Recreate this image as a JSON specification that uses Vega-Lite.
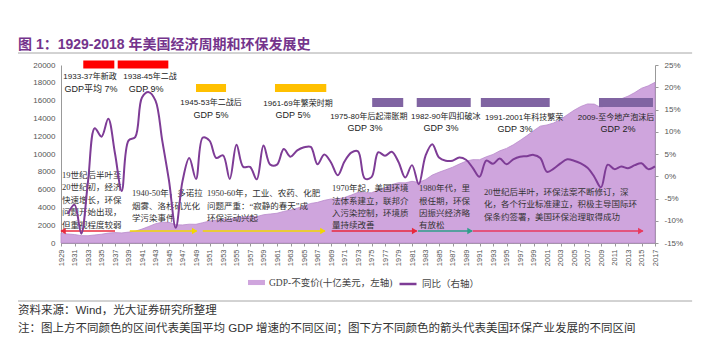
{
  "$schema": "https://vega.github.io/schema/vega-lite/v6.json",
  "width": 594,
  "height": 178,
  "autosize": {"type": "none"},
  "padding": {"left": 61, "top": 65, "right": 54, "bottom": 107},
  "background": "white",
  "config": {
    "view": {"stroke": null},
    "font": "Liberation Sans, Noto Sans CJK SC",
    "axis": {"grid": false, "labelOverlap": false, "labelFont": "Liberation Sans"},
    "axisX": {"labelAngle": -90, "labelFontSize": 7.5, "labelColor": "#555", "domainColor": "#999", "tickColor": "#999", "tickSize": 3, "labelPadding": 3, "labelFlush": false, "labelOverlap": false}
  },
  "title": {"text": "图 1：1929-2018 年美国经济周期和环保发展史", "anchor": "start", "frame": "group", "dx": -43, "offset": 1, "fontSize": 14, "fontWeight": "bold", "color": "#74348C", "font": "Liberation Sans, Noto Sans CJK SC"},
  "datasets": {
    "gdp": [
      {"year": 1929, "gdp": 1109.4, "yoy": null},
      {"year": 1930, "gdp": 1015.1, "yoy": -8.5},
      {"year": 1931, "gdp": 950.0, "yoy": -6.4},
      {"year": 1932, "gdp": 827.6, "yoy": -12.9},
      {"year": 1933, "gdp": 817.3, "yoy": -1.2},
      {"year": 1934, "gdp": 905.6, "yoy": 10.8},
      {"year": 1935, "gdp": 986.3, "yoy": 8.9},
      {"year": 1936, "gdp": 1113.6, "yoy": 12.9},
      {"year": 1937, "gdp": 1170.6, "yoy": 5.1},
      {"year": 1938, "gdp": 1132.5, "yoy": -3.3},
      {"year": 1939, "gdp": 1222.9, "yoy": 8.0},
      {"year": 1940, "gdp": 1330.2, "yoy": 8.8},
      {"year": 1941, "gdp": 1566.0, "yoy": 17.7},
      {"year": 1942, "gdp": 1853.2, "yoy": 18.9},
      {"year": 1943, "gdp": 2168.7, "yoy": 17.0},
      {"year": 1944, "gdp": 2343.0, "yoy": 8.0},
      {"year": 1945, "gdp": 2319.1, "yoy": -1.0},
      {"year": 1946, "gdp": 2050.3, "yoy": -11.6},
      {"year": 1947, "gdp": 2029.0, "yoy": -1.1},
      {"year": 1948, "gdp": 2112.7, "yoy": 4.1},
      {"year": 1949, "gdp": 2101.2, "yoy": -0.6},
      {"year": 1950, "gdp": 2283.3, "yoy": 8.7},
      {"year": 1951, "gdp": 2465.8, "yoy": 8.0},
      {"year": 1952, "gdp": 2567.9, "yoy": 4.1},
      {"year": 1953, "gdp": 2688.6, "yoy": 4.7},
      {"year": 1954, "gdp": 2672.3, "yoy": -0.6},
      {"year": 1955, "gdp": 2862.4, "yoy": 7.1},
      {"year": 1956, "gdp": 2922.1, "yoy": 2.1},
      {"year": 1957, "gdp": 2983.8, "yoy": 2.1},
      {"year": 1958, "gdp": 2963.6, "yoy": -0.7},
      {"year": 1959, "gdp": 3175.1, "yoy": 6.9},
      {"year": 1960, "gdp": 3259.1, "yoy": 2.6},
      {"year": 1961, "gdp": 3343.5, "yoy": 2.6},
      {"year": 1962, "gdp": 3548.4, "yoy": 6.1},
      {"year": 1963, "gdp": 3702.9, "yoy": 4.4},
      {"year": 1964, "gdp": 3916.3, "yoy": 5.8},
      {"year": 1965, "gdp": 4170.8, "yoy": 6.5},
      {"year": 1966, "gdp": 4445.9, "yoy": 6.6},
      {"year": 1967, "gdp": 4567.8, "yoy": 2.7},
      {"year": 1968, "gdp": 4792.3, "yoy": 4.9},
      {"year": 1969, "gdp": 4942.1, "yoy": 3.1},
      {"year": 1970, "gdp": 4951.3, "yoy": 0.2},
      {"year": 1971, "gdp": 5114.3, "yoy": 3.3},
      {"year": 1972, "gdp": 5383.3, "yoy": 5.3},
      {"year": 1973, "gdp": 5687.2, "yoy": 5.6},
      {"year": 1974, "gdp": 5656.5, "yoy": -0.5},
      {"year": 1975, "gdp": 5644.8, "yoy": -0.2},
      {"year": 1976, "gdp": 5949.0, "yoy": 5.4},
      {"year": 1977, "gdp": 6224.1, "yoy": 4.6},
      {"year": 1978, "gdp": 6568.6, "yoy": 5.5},
      {"year": 1979, "gdp": 6776.6, "yoy": 3.2},
      {"year": 1980, "gdp": 6759.2, "yoy": -0.3},
      {"year": 1981, "gdp": 6930.7, "yoy": 2.5},
      {"year": 1982, "gdp": 6805.8, "yoy": -1.8},
      {"year": 1983, "gdp": 7117.7, "yoy": 4.6},
      {"year": 1984, "gdp": 7632.8, "yoy": 7.2},
      {"year": 1985, "gdp": 7951.1, "yoy": 4.2},
      {"year": 1986, "gdp": 8226.4, "yoy": 3.5},
      {"year": 1987, "gdp": 8511.0, "yoy": 3.5},
      {"year": 1988, "gdp": 8866.5, "yoy": 4.2},
      {"year": 1989, "gdp": 9192.1, "yoy": 3.7},
      {"year": 1990, "gdp": 9365.5, "yoy": 1.9},
      {"year": 1991, "gdp": 9355.4, "yoy": -0.1},
      {"year": 1992, "gdp": 9684.9, "yoy": 3.5},
      {"year": 1993, "gdp": 9951.5, "yoy": 2.8},
      {"year": 1994, "gdp": 10352.4, "yoy": 4.0},
      {"year": 1995, "gdp": 10630.3, "yoy": 2.7},
      {"year": 1996, "gdp": 11031.4, "yoy": 3.8},
      {"year": 1997, "gdp": 11521.9, "yoy": 4.4},
      {"year": 1998, "gdp": 12038.3, "yoy": 4.5},
      {"year": 1999, "gdp": 12610.5, "yoy": 4.8},
      {"year": 2000, "gdp": 13131.0, "yoy": 4.1},
      {"year": 2001, "gdp": 13262.1, "yoy": 1.0},
      {"year": 2002, "gdp": 13493.1, "yoy": 1.7},
      {"year": 2003, "gdp": 13879.1, "yoy": 2.9},
      {"year": 2004, "gdp": 14406.4, "yoy": 3.8},
      {"year": 2005, "gdp": 14912.5, "yoy": 3.5},
      {"year": 2006, "gdp": 15338.3, "yoy": 2.9},
      {"year": 2007, "gdp": 15626.0, "yoy": 1.9},
      {"year": 2008, "gdp": 15604.7, "yoy": -0.1},
      {"year": 2009, "gdp": 15208.8, "yoy": -2.5},
      {"year": 2010, "gdp": 15598.8, "yoy": 2.6},
      {"year": 2011, "gdp": 15840.7, "yoy": 1.6},
      {"year": 2012, "gdp": 16197.0, "yoy": 2.2},
      {"year": 2013, "gdp": 16495.4, "yoy": 1.8},
      {"year": 2014, "gdp": 16899.8, "yoy": 2.5},
      {"year": 2015, "gdp": 17386.7, "yoy": 2.9},
      {"year": 2016, "gdp": 17659.2, "yoy": 1.6},
      {"year": 2017, "gdp": 18050.7, "yoy": 2.2}
    ],
    "bars": [
      {"period": "1933-37", "tier": "高增长", "start": 1932.3, "end": 1936.9, "top": 20506, "bottom": 19607},
      {"period": "1938-45", "tier": "高增长", "start": 1937.4, "end": 1944.9, "top": 20506, "bottom": 19607},
      {"period": "1945-53", "tier": "中增长", "start": 1949.0, "end": 1953.45, "top": 17865, "bottom": 16966},
      {"period": "1961-69", "tier": "中增长", "start": 1960.7, "end": 1968.3, "top": 17865, "bottom": 16966},
      {"period": "1975-80", "tier": "低增长", "start": 1975.1, "end": 1979.7, "top": 16292, "bottom": 15281},
      {"period": "1982-90", "tier": "低增长", "start": 1981.7, "end": 1989.7, "top": 16292, "bottom": 15281},
      {"period": "1991-2001", "tier": "低增长", "start": 1991.2, "end": 2001.4, "top": 16292, "bottom": 15281},
      {"period": "2009-", "tier": "低增长", "start": 2008.7, "end": 2016.7, "top": 16292, "bottom": 15281}
    ],
    "periodLabels": [
      {"t": "1933-37年新政", "x": 1933.3, "v": 18652},
      {"t": "1938-45年二战", "x": 1942.19, "v": 18652},
      {"t": "1945-53年二战后", "x": 1951.22, "v": 15730},
      {"t": "1961-69年繁荣时期", "x": 1964.11, "v": 15618},
      {"t": "1975-80年后起滞胀期", "x": 1974.6, "v": 14157},
      {"t": "1982-90年四扣破冰", "x": 1986.0, "v": 14157},
      {"t": "1991-2001年科技繁荣", "x": 1997.6, "v": 14045},
      {"t": "2009-至今地产泡沫后", "x": 2011.22, "v": 14045}
    ],
    "gdpLabels": [
      {"t": "GDP平均 7%", "x": 1933.44, "v": 17303},
      {"t": "GDP 9%", "x": 1941.6, "v": 17303},
      {"t": "GDP 5%", "x": 1951.22, "v": 14382},
      {"t": "GDP 5%", "x": 1963.37, "v": 14382},
      {"t": "GDP 3%", "x": 1974.04, "v": 12921},
      {"t": "GDP 3%", "x": 1985.3, "v": 12921},
      {"t": "GDP 3%", "x": 1996.26, "v": 12809},
      {"t": "GDP 2%", "x": 2011.52, "v": 12809}
    ],
    "notes": [
      {"t": "19世纪后半叶至", "x": 1929.15, "v": 7640},
      {"t": "20世纪初，经济", "x": 1929.15, "v": 6236},
      {"t": "快速增长，环保", "x": 1929.15, "v": 4831},
      {"t": "问题开始出现，", "x": 1929.15, "v": 3427},
      {"t": "但重视程度较弱", "x": 1929.15, "v": 2022},
      {"t": "1940-50年，多诺拉", "x": 1939.52, "v": 5618},
      {"t": "烟雾、洛杉矶光化", "x": 1939.52, "v": 4213},
      {"t": "学污染事件", "x": 1939.52, "v": 2809},
      {"t": "1950-60年，工业、农药、化肥", "x": 1950.63, "v": 5618},
      {"t": "问题严重：“寂静的春天”成", "x": 1950.63, "v": 4213},
      {"t": "环保运动兴起", "x": 1950.63, "v": 2809},
      {"t": "1970年起，美国环境", "x": 1969.15, "v": 6146},
      {"t": "法体系建立，联邦介", "x": 1969.15, "v": 4753},
      {"t": "入污染控制，环境质", "x": 1969.15, "v": 3404},
      {"t": "量持续改善", "x": 1969.15, "v": 2022},
      {"t": "1980年代，里", "x": 1982.04, "v": 6146},
      {"t": "根任期，环保", "x": 1982.04, "v": 4753},
      {"t": "因振兴经济略", "x": 1982.04, "v": 3404},
      {"t": "有放松", "x": 1982.04, "v": 2022},
      {"t": "20世纪后半叶，环保法案不断修订，深", "x": 1991.67, "v": 5764},
      {"t": "化，各个行业标准建立，积极主导国际环", "x": 1991.67, "v": 4382},
      {"t": "保条约签署，美国环保治理取得成功", "x": 1991.67, "v": 2955}
    ],
    "arrows": [
      {"era": "19世纪后半叶", "from": 1929.0, "to": 1937.0, "head": 1929.3, "dir": "左"},
      {"era": "1940-50年", "from": 1939.2, "to": 1949.1, "head": 1948.8, "dir": "右"},
      {"era": "1950-60年", "from": 1950.0, "to": 1968.1, "head": 1967.8, "dir": "右"},
      {"era": "1970年起", "from": 1969.1, "to": 1981.7, "head": 1981.4, "dir": "右"},
      {"era": "1980年代", "from": 1981.9, "to": 1989.9, "head": 1989.6, "dir": "右"},
      {"era": "20世纪后半叶", "from": 1990.0, "to": 2015.2, "head": 2014.9, "dir": "右"}
    ],
    "footnotes": [
      {"t": "资料来源：Wind，光大证券研究所整理", "v": -7640},
      {"t": "注：图上方不同颜色的区间代表美国平均 GDP 增速的不同区间；图下方不同颜色的箭头代表美国环保产业发展的不同区间", "v": -9663}
    ],
    "separators": [
      {"pos": "上", "v": 21348},
      {"pos": "下", "v": -6517}
    ]
  },
  "layer": [
    {
      "data": {"name": "gdp"},
      "mark": {"type": "area", "opacity": 1, "stroke": "#B98ACB", "strokeWidth": 0.8},
      "encoding": {
        "x": {"field": "year", "type": "quantitative", "title": null,
          "scale": {"domain": [1929, 2017], "nice": false, "zero": false},
          "axis": {"orient": "bottom", "offset": 0, "values": [1929,1937,1945,1953,1961,1969,1977,1985,1993,2001,2009,2017], "format": "d", "title": null}},
        "y": {"field": "gdp", "type": "quantitative", "title": null,
          "scale": {"domain": [0, 20000], "nice": false, "zero": false},
          "axis": {"values": [0,2000,4000,6000,8000,10000,12000,14000,16000,18000,20000], "tickCount": 20, "format": "d", "labelFontSize": 8, "labelColor": "#555", "domainColor": "#999", "ticks": false, "labelPadding": 6, "labelOverlap": false, "labelFlush": false}},
        "fill": {"datum": "GDP-不变价(十亿美元，左轴)", "type": "nominal", "scale": {"range": ["#CFA5DD"]},
          "legend": {"orient": "none", "legendX": 187, "legendY": 209, "direction": "horizontal", "title": null, "padding": 0, "symbolType": "M-1,-0.3L1,-0.3L1,0.3L-1,0.3Z", "symbolSize": 289, "symbolStrokeWidth": 0, "labelFontSize": 9.5, "labelColor": "#444", "labelFont": "Liberation Serif, Noto Sans CJK SC"}}
      }
    },
    {
      "data": {"name": "bars"},
      "mark": {"type": "rect"},
      "encoding": {
        "x": {"field": "start", "type": "quantitative", "title": null,
          "axis": {"orient": "bottom", "offset": 0, "values": [1933,1941,1949,1957,1965,1973,1981,1989,1997,2005,2013], "format": "d", "title": null}},
        "x2": {"field": "end"},
        "y": {"field": "top", "type": "quantitative", "title": null, "axis": null, "scale": {"domain": [0, 20000], "nice": false, "zero": false}},
        "y2": {"field": "bottom"},
        "color": {"field": "tier", "type": "nominal", "legend": null,
          "scale": {"domain": ["高增长","中增长","低增长","19世纪后半叶","1940-50年","1950-60年","1970年起","1980年代","20世纪后半叶"],
            "range": ["#FF0000","#FFC000","#8064A2","#E8283C","#F2D700","#F2D700","#E8283C","#2E9E8A","#E83A5E"]}}
      }
    },
    {
      "data": {"name": "periodLabels"},
      "mark": {"type": "text", "align": "center", "baseline": "middle", "fontSize": 8, "font": "Liberation Sans, Noto Sans CJK SC", "color": "#222"},
      "encoding": {
        "x": {"field": "x", "type": "quantitative", "title": null, "axis": null},
        "y": {"field": "v", "type": "quantitative", "title": null, "axis": null, "scale": {"domain": [0, 20000], "nice": false, "zero": false}},
        "text": {"field": "t"}
      }
    },
    {
      "data": {"name": "gdpLabels"},
      "mark": {"type": "text", "align": "center", "baseline": "middle", "fontSize": 9, "font": "Liberation Sans, Noto Sans CJK SC", "color": "#222"},
      "encoding": {
        "x": {"field": "x", "type": "quantitative", "title": null, "axis": null},
        "y": {"field": "v", "type": "quantitative", "title": null, "axis": null, "scale": {"domain": [0, 20000], "nice": false, "zero": false}},
        "text": {"field": "t"}
      }
    },
    {
      "data": {"name": "notes"},
      "mark": {"type": "text", "align": "left", "baseline": "middle", "fontSize": 8.5, "font": "Liberation Serif, Noto Sans CJK SC", "color": "#333"},
      "encoding": {
        "x": {"field": "x", "type": "quantitative", "title": null,
          "axis": {"orient": "bottom", "offset": 0, "values": [1935,1943,1951,1959,1967,1975,1983,1991,1999,2007,2015], "format": "d", "title": null}},
        "y": {"field": "v", "type": "quantitative", "title": null, "axis": null, "scale": {"domain": [0, 20000], "nice": false, "zero": false}},
        "text": {"field": "t"}
      }
    },
    {
      "data": {"name": "arrows"},
      "mark": {"type": "rule", "strokeWidth": 1.5},
      "encoding": {
        "x": {"field": "from", "type": "quantitative", "title": null, "axis": null},
        "x2": {"field": "to"},
        "y": {"datum": 1348, "type": "quantitative", "axis": null, "scale": {"domain": [0, 20000], "nice": false, "zero": false}},
        "color": {"field": "era", "type": "nominal", "legend": null}
      }
    },
    {
      "data": {"name": "arrows"},
      "mark": {"type": "point", "filled": true, "size": 40, "opacity": 1},
      "encoding": {
        "x": {"field": "head", "type": "quantitative", "title": null, "axis": null},
        "y": {"datum": 1348, "type": "quantitative", "axis": null, "scale": {"domain": [0, 20000], "nice": false, "zero": false}},
        "shape": {"field": "dir", "type": "nominal", "legend": null, "scale": {"domain": ["左","右"], "range": ["triangle-left","triangle-right"]}},
        "color": {"field": "era", "type": "nominal", "legend": null}
      }
    },
    {
      "data": {"name": "footnotes"},
      "mark": {"type": "text", "align": "left", "baseline": "middle", "fontSize": 11.5, "font": "Liberation Sans, Noto Sans CJK SC", "color": "#333"},
      "encoding": {
        "x": {"datum": 1922.63, "type": "quantitative", "axis": null},
        "y": {"field": "v", "type": "quantitative", "title": null, "axis": null, "scale": {"domain": [0, 20000], "nice": false, "zero": false}},
        "text": {"field": "t"}
      }
    },
    {
      "data": {"name": "separators"},
      "mark": {"type": "rule", "color": "#A6A6A6", "strokeWidth": 1},
      "encoding": {
        "x": {"datum": 1922.63, "type": "quantitative", "axis": null},
        "x2": {"datum": 2022.5},
        "y": {"field": "v", "type": "quantitative", "title": null, "axis": null, "scale": {"domain": [0, 20000], "nice": false, "zero": false}}
      }
    },
    {
      "data": {"name": "gdp"},
      "mark": {"type": "line", "interpolate": "catmull-rom", "strokeWidth": 2},
      "encoding": {
        "x": {"field": "year", "type": "quantitative", "title": null,
          "axis": {"orient": "bottom", "offset": 0, "values": [1931,1939,1947,1955,1963,1971,1979,1987,1995,2003,2011], "format": "d", "title": null}},
        "y": {"field": "yoy", "type": "quantitative", "title": null,
          "scale": {"domain": [-15, 25], "nice": false, "zero": false},
          "axis": {"orient": "right", "values": [-15,-10,-5,0,5,10,15,20,25], "tickCount": 20, "labelExpr": "datum.value + '%'", "labelFontSize": 8, "labelColor": "#555", "domainColor": "#999", "tickColor": "#999", "tickSize": 3, "labelPadding": 6, "labelOverlap": false, "labelFlush": false}},
        "stroke": {"datum": "同比（右轴）", "type": "nominal", "scale": {"range": ["#7E3C96"]},
          "legend": {"orient": "none", "legendX": 337, "legendY": 209, "direction": "horizontal", "title": null, "padding": 0, "symbolType": "stroke", "symbolSize": 289, "symbolStrokeWidth": 2.5, "labelFontSize": 9.5, "labelColor": "#444", "labelFont": "Liberation Serif, Noto Sans CJK SC"}}
      }
    }
  ],
  "resolve": {"scale": {"y": "independent"}, "axis": {"x": "independent"}}
}
